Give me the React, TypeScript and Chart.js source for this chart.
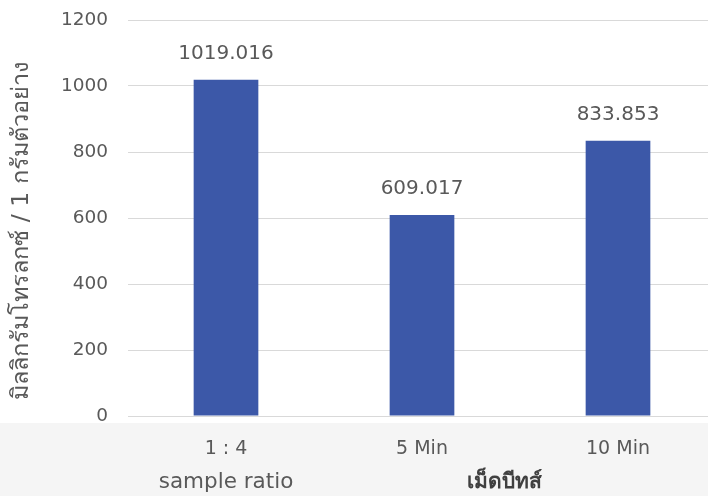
import { useEffect, useRef } from "react";
import { Chart, registerables } from "chart.js";

Chart.register(...registerables);

// Antioxidant capacity of beet pellets by preparation condition
const categories = ["1 : 4", "5 Min", "10 Min"];
const values = [1019.016, 609.017, 833.853];
const valueLabels = ["1019.016", "609.017", "833.853"];
const yMin = 0;
const yMax = 1200;
const yStep = 200;
const yTitle = "มิลลิกรัมโทรลกซ์ / 1 กรัมตัวอย่าง";
const groupCaption = "sample ratio";
const seriesCaption = "เม็ดบีทส์";

const FONT = "'DejaVu Sans', 'Noto Sans', sans-serif";
const TEXT = "#595959";
const GRID = "#d9d9d9";
const BAR = "#3c58a8";

const backgroundPlugin = {
  id: "pageBackground",
  beforeDraw(chart: any) {
    const { ctx, width, height, chartArea } = chart;
    ctx.save();
    ctx.fillStyle = "#ffffff";
    ctx.fillRect(0, 0, width, height);
    ctx.fillStyle = "#f5f5f5";
    ctx.fillRect(0, chartArea.bottom + 7, width, height - chartArea.bottom);
    ctx.restore();
  },
};

const valueLabelPlugin = {
  id: "valueLabels",
  afterDatasetsDraw(chart: any) {
    const { ctx } = chart;
    const meta = chart.getDatasetMeta(0);
    ctx.save();
    ctx.font = `20px ${FONT}`;
    ctx.fillStyle = TEXT;
    ctx.textAlign = "center";
    ctx.textBaseline = "bottom";
    meta.data.forEach((bar: any, i: number) => {
      ctx.fillText(valueLabels[i], bar.x, bar.y - 16);
    });
    ctx.restore();
  },
};

// Rotated value-axis title plus the two captions under the category axis
const captionPlugin = {
  id: "axisCaptions",
  afterDraw(chart: any) {
    const { ctx, chartArea } = chart;
    const x = chart.scales.x;
    const baseline = chartArea.bottom + 72;
    ctx.save();
    ctx.fillStyle = TEXT;
    ctx.textAlign = "center";
    ctx.textBaseline = "alphabetic";
    ctx.font = `21.5px ${FONT}`;
    ctx.fillText(groupCaption, x.getPixelForValue(0), baseline);
    ctx.fillStyle = "#404040";
    ctx.font = `bold 21px ${FONT}`;
    const mid = (x.getPixelForValue(1) + x.getPixelForValue(2)) / 2;
    ctx.fillText(seriesCaption, mid - 16, baseline);

    ctx.translate(22, (chartArea.top + chartArea.bottom) / 2 + 13);
    ctx.rotate(-Math.PI / 2);
    ctx.fillStyle = TEXT;
    ctx.font = `23.5px ${FONT}`;
    ctx.textBaseline = "middle";
    ctx.fillText(yTitle, 0, 0);
    ctx.restore();
  },
};

export default function App() {
  const canvasRef = useRef<HTMLCanvasElement | null>(null);

  useEffect(() => {
    const canvas = canvasRef.current;
    if (!canvas) return;
    const chart = new Chart(canvas, {
      type: "bar",
      data: {
        labels: categories,
        datasets: [
          {
            data: values,
            backgroundColor: BAR,
            borderWidth: 0,
            barPercentage: 0.33,
            categoryPercentage: 1,
          },
        ],
      },
      options: {
        responsive: false,
        animation: false,
        layout: { padding: { top: 20, right: 0, bottom: 0, left: 0 } },
        plugins: {
          legend: { display: false },
          tooltip: { enabled: false },
        },
        scales: {
          x: {
            grid: { display: false },
            border: { display: true, color: GRID, width: 1 },
            ticks: {
              color: TEXT,
              font: { family: FONT, size: 19 },
              padding: 14,
            },
            afterFit(scale: any) {
              scale.height = 80;
            },
          },
          y: {
            min: yMin,
            max: yMax,
            border: { display: false },
            grid: {
              color: GRID,
              lineWidth: 1,
              drawTicks: true,
              tickLength: 20,
              tickColor: "rgba(0,0,0,0)",
            },
            ticks: {
              stepSize: yStep,
              color: TEXT,
              font: { family: FONT, size: 18.5 },
              padding: 0,
              callback: (v: any) => String(v),
            },
            afterFit(scale: any) {
              scale.width = 128;
            },
          },
        },
      },
      plugins: [backgroundPlugin, valueLabelPlugin, captionPlugin],
    });
    return () => chart.destroy();
  }, []);

  return (
    <div
      style={{
        position: "absolute",
        left: 0,
        top: 0,
        width: 708,
        height: 496,
        overflow: "hidden",
        background: "#ffffff",
      }}
    >
      <canvas ref={canvasRef} width={716} height={496} style={{ display: "block" }} />
    </div>
  );
}
